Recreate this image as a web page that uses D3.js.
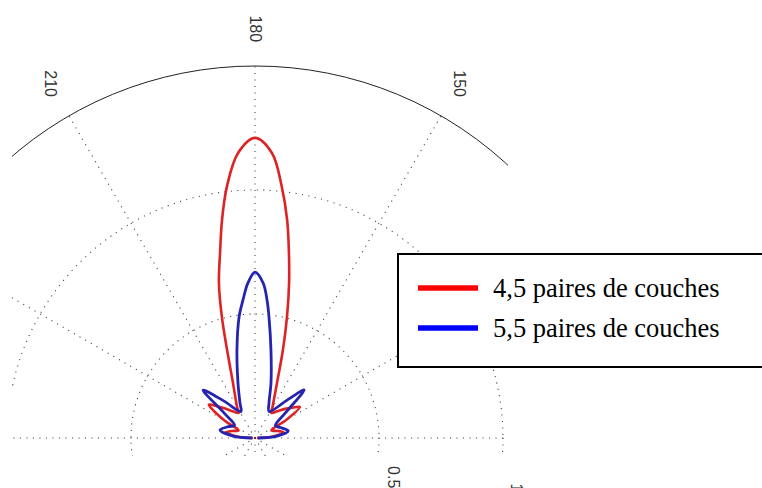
<!DOCTYPE html>
<html>
<head>
<meta charset="utf-8">
<script src="https://cdn.jsdelivr.net/npm/d3@7"></script>
<style>
  html, body { margin: 0; padding: 0; background: #fff; }
  svg { display: block; }
</style>
</head>
<body>
<svg id="chart" width="762" height="488"></svg>
<script>
// polar pattern, angles in degrees (180 at top), radius in plot units
const rMax = 1.5;
const ringValues = [0.5, 1, 1.5];
const ringLabels = [0.5, 1];
const angleLabels = [150, 180, 210];

const redTheta = [90, 95, 101, 107, 115, 120, 124.6, 129, 134, 140, 147, 150.6, 158.2, 162.4, 165.2, 167.6, 169.6, 171.6, 173.9, 176.6, 180,
                  183.4, 186.4, 188.6, 190.7, 193.1, 195.3, 197.6, 201.8, 210.1, 213, 220, 226, 230, 234, 240, 245, 253, 259, 265, 270];
const redR = [0.008, 0.073, 0.117, 0.097, 0.073, 0.145, 0.220, 0.194, 0.169, 0.141, 0.121, 0.144, 0.239, 0.372, 0.505, 0.640, 0.758, 0.888, 1.018, 1.151, 1.210,
              1.151, 1.019, 0.889, 0.759, 0.642, 0.506, 0.372, 0.239, 0.144, 0.121, 0.141, 0.173, 0.198, 0.230, 0.145, 0.073, 0.097, 0.121, 0.073, 0.008];

const blueTheta = [90, 95, 102, 110, 117, 122, 130, 134.4, 140, 152, 158.2, 163.8, 169.7, 173.4, 175, 177, 180,
                   182.6, 185, 187.5, 191.6, 197.2, 203.2, 208, 220, 227.3, 231, 238, 247, 257, 265, 270];
const blueR = [0.012, 0.089, 0.137, 0.117, 0.101, 0.097, 0.168, 0.277, 0.197, 0.121, 0.152, 0.231, 0.360, 0.491, 0.558, 0.626, 0.669,
               0.626, 0.558, 0.492, 0.362, 0.232, 0.154, 0.121, 0.194, 0.285, 0.161, 0.097, 0.117, 0.145, 0.089, 0.012];

const legendLabels = ["4,5 paires de couches", "5,5 paires de couches"];
const seriesColors = ["#dd2323", "#2424b0"];
const legendColors = ["#ff0000", "#0000ff"];

const cx = 255, cy = 438, R = 372;
const svg = d3.select("#chart");

const rScale = d3.scaleLinear().domain([0, rMax]).range([0, R]);
const toRad = t => (180 - t) * Math.PI / 180;   // 0 = up, clockwise
function polar(theta, v) {
    const a = toRad(theta);
    return [cx + rScale(v) * Math.sin(a), cy - rScale(v) * Math.cos(a)];
}

svg.append("defs").append("clipPath").attr("id", "plotclip")
    .append("rect").attr("x", 12).attr("y", 0).attr("width", 496).attr("height", 456);

const grid = svg.append("g").attr("clip-path", "url(#plotclip)");

// spokes
d3.range(0, 360, 30).forEach(t => {
    const p = polar(t, rMax);
    grid.append("line")
        .attr("x1", cx).attr("y1", cy)
        .attr("x2", p[0]).attr("y2", p[1])
        .attr("stroke", "#444")
        .attr("stroke-width", 1.1)
        .attr("stroke-dasharray", "1.1,5.4");
});

// rings
ringValues.forEach((v, i) => {
    const last = i === ringValues.length - 1;
    grid.append("circle")
        .attr("cx", cx).attr("cy", cy)
        .attr("r", rScale(v))
        .attr("fill", "none")
        .attr("stroke", last ? "#222" : "#444")
        .attr("stroke-width", last ? 1 : 1.1)
        .attr("stroke-dasharray", last ? null : "1.1,5.4");
});

// angle labels
angleLabels.forEach(t => {
    const p = polar(t, rMax * 1.1);
    svg.append("text")
        .attr("transform", `translate(${p[0]},${p[1]}) rotate(90)`)
        .attr("text-anchor", "middle")
        .attr("dominant-baseline", "central")
        .attr("font-family", "Liberation Sans, Arial, sans-serif")
        .attr("font-size", 16)
        .attr("fill", "#333")
        .text(t);
});

// ring labels (only the ones that fall inside the picture)
ringLabels.forEach(v => {
    const p = polar(82, v + 0.025);
    svg.append("text")
        .attr("transform", `translate(${p[0]},${p[1]}) rotate(90)`)
        .attr("x", 10)
        .attr("y", -4)
        .attr("font-family", "Liberation Sans, Arial, sans-serif")
        .attr("font-size", 16)
        .attr("fill", "#333")
        .text(v);
});

// curves
const line = d3.lineRadial()
    .angle(d => toRad(d[0]))
    .radius(d => rScale(d[1]))
    .curve(d3.curveCatmullRom.alpha(0.5));

const plotG = svg.append("g").attr("transform", `translate(${cx},${cy})`);
[[redTheta, redR, 2.6], [blueTheta, blueR, 2.8]].forEach(([th, rr, w], i) => {
    plotG.append("path")
        .datum(th.map((t, k) => [t, rr[k]]))
        .attr("fill", "none")
        .attr("stroke", seriesColors[i])
        .attr("stroke-width", w)
        .attr("stroke-linejoin", "round")
        .attr("d", line);
});

// legend
const lg = svg.append("g");
lg.append("rect")
    .attr("x", 398).attr("y", 254)
    .attr("width", 380).attr("height", 113)
    .attr("fill", "#fff")
    .attr("stroke", "#000")
    .attr("stroke-width", 2);
legendLabels.forEach((lab, i) => {
    const y = 288 + i * 40;
    lg.append("line")
        .attr("x1", 418).attr("x2", 478)
        .attr("y1", y).attr("y2", y)
        .attr("stroke", legendColors[i])
        .attr("stroke-width", 5.5);
    lg.append("text")
        .attr("x", 493).attr("y", y + 9)
        .attr("font-family", "Liberation Serif, Times New Roman, serif")
        .attr("font-size", 26.5)
        .attr("fill", "#000")
        .text(lab);
});
</script>
</body>
</html>
